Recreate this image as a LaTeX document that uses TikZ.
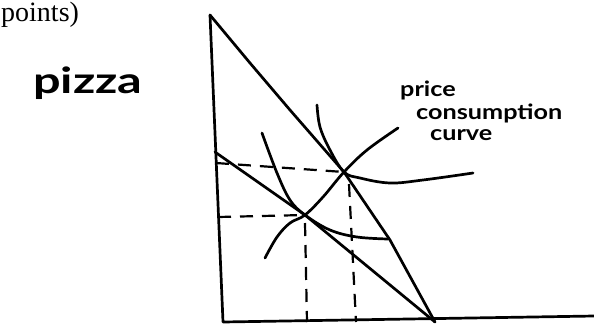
\documentclass[tikz,border=0pt]{standalone}
\usepackage{fontspec}
\setmainfont{Liberation Serif}
\newfontfamily\handfont[FakeStretch=1.35]{Lato}
\newfontfamily\handnarrow[FakeStretch=1.2]{Lato}
\begin{document}
\begin{tikzpicture}[x=1pt,y=-1pt,
  ink/.style={line width=2.7pt,line cap=round,line join=round},
  guide/.style={line width=2.2pt,dash pattern=on 13pt off 9pt},
  hand/.style={inner sep=0pt,font=\handfont\bfseries\fontsize{36}{36}\selectfont},
  note/.style={inner sep=0pt,anchor=base west,font=\handnarrow\bfseries\fontsize{21}{22}\selectfont}]
\useasboundingbox (0,0) rectangle (594,325);
% key points
\coordinate (Ytop) at (210,15);
\coordinate (O) at (223,322);
\coordinate (Xend) at (594,316);
\coordinate (Ymid) at (215,152);
\coordinate (X) at (435,322);
\coordinate (A) at (344,172);
\coordinate (B) at (305,215);
\coordinate (yA) at (216,163);
\coordinate (yB) at (218,217);
\coordinate (xA) at (356,322);
\coordinate (xB) at (307,322);
% axes
\draw[ink] (Ytop) -- (O) -- (Xend);
% budget lines
\draw[ink] (Ytop) -- (250,63) -- (290,110) -- (A) -- (390,240) -- (X);
\draw[ink] (Ymid) -- (B) -- (X);
% guides
\draw[guide] (yA) -- (A);
\draw[guide] (yB) -- (B);
\draw[guide] (A) ++(5,12) -- (xA);
\draw[guide] (B) ++(0,8) -- (xB);
% indifference curves
\draw[ink] plot[smooth,tension=0.6] coordinates {(317,105) (320,127) (330,150) (A) (360,178) (390,183) (423,180) (473,173)};
\draw[ink] plot[smooth,tension=0.6] coordinates {(262,133) (277,173) (290,200) (B) (330,230) (357,237) (388,239)};
% price consumption curve
\draw[ink] plot[smooth,tension=0.6] coordinates {(265,258) (277,237) (290,223) (B) (323,197) (A) (367,150) (398,128)};
% texts
\node[inner sep=0pt,anchor=base west,font=\fontsize{28}{29}\selectfont] (pts) at (1,21) {points)};
\node[hand,anchor=base west] (pizza) at (33,93) {pizza};
\node[note] (pc1) at (400,96) {price};
\node[note] (pc2) at (416,119) {consumption};
\node[note] (pc3) at (430,140) {curve};
\end{tikzpicture}
\end{document}
